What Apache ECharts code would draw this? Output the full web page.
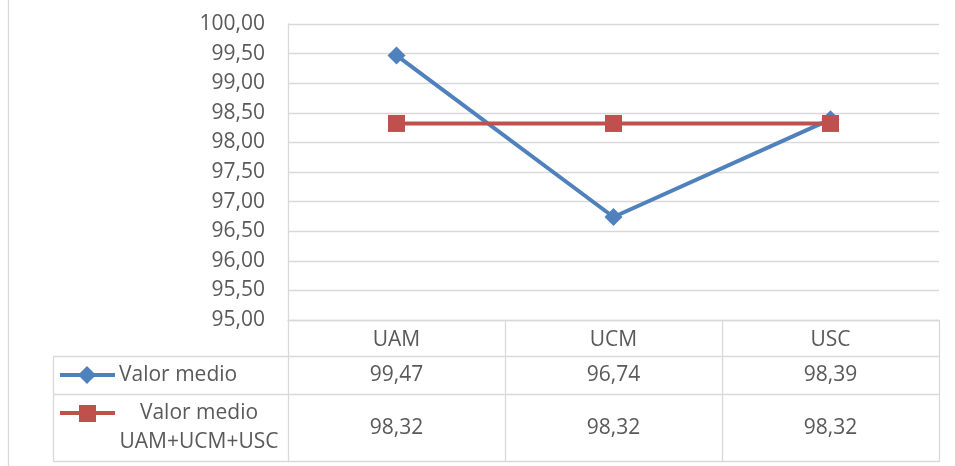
<!DOCTYPE html>
<html>
<head>
<meta charset="utf-8">
<script src="https://cdn.jsdelivr.net/npm/echarts@6/dist/echarts.min.js"></script>
<style>
html,body{margin:0;padding:0;background:#fff;}
#c{width:955px;height:466px;}
</style>
</head>
<body>
<div id="c"></div>
<script>
const categories = ['UAM', 'UCM', 'USC'];
const seriesNames = ['Valor medio', 'Valor medio UAM+UCM+USC'];
const valorMedio = [99.47, 96.74, 98.39];
const valorMedioTotal = [98.32, 98.32, 98.32];
const yMin = 95, yMax = 100, yStep = 0.5;

const FONT = 'Open Sans';
const TXT = '#595959';
const GRID = '#d9d9d9';
const BLUE = '#4f81bd';
const RED = '#c0504d';
const fmt = v => v.toFixed(2).replace('.', ',');

const chart = echarts.init(document.getElementById('c'), null, {renderer: 'canvas'});
const option = {
  animation: false,
  backgroundColor: '#fff',
  textStyle: {fontFamily: FONT},
  grid: {left: 288, right: 16, top: 24, bottom: 146, containLabel: false},
  xAxis: {
    type: 'category',
    data: categories,
    boundaryGap: true,
    axisLine: {show: true, lineStyle: {color: GRID, width: 1.3}},
    axisTick: {show: true, interval: 0, length: 142, lineStyle: {color: GRID, width: 1.3}},
    axisLabel: {color: TXT, fontSize: 21, fontFamily: FONT, margin: 7, lineHeight: 26, interval: 0}
  },
  yAxis: {
    type: 'value',
    min: yMin, max: yMax, interval: yStep,
    axisLine: {show: true, lineStyle: {color: GRID, width: 1.3}},
    axisTick: {show: false},
    splitLine: {show: true, lineStyle: {color: GRID, width: 1.3}},
    axisLabel: {color: TXT, fontSize: 21, fontFamily: FONT, margin: 23, formatter: v => fmt(v)}
  },
  series: [
    {
      name: seriesNames[0], type: 'line', data: valorMedio,
      symbol: 'diamond', symbolSize: 18,
      lineStyle: {color: BLUE, width: 4},
      itemStyle: {color: BLUE}, z: 2
    },
    {
      name: seriesNames[1], type: 'line', data: valorMedioTotal,
      symbol: 'rect', symbolSize: 17,
      lineStyle: {color: RED, width: 4},
      itemStyle: {color: RED}, z: 3
    }
  ]
};
chart.setOption(option);

// Data table below the plot, built from the arrays
const xs = categories.map((c) => chart.convertToPixel({xAxisIndex: 0}, c));
const g = [];
const hline = (x1, x2, y) => g.push({type: 'line', shape: {x1, y1: y, x2, y2: y}, style: {stroke: GRID, lineWidth: 1.3}, silent: true});
const vline = (x, y1, y2) => g.push({type: 'line', shape: {x1: x, y1, x2: x, y2}, style: {stroke: GRID, lineWidth: 1.3}, silent: true});
const right = 939;
hline(53, right, 356.5);
hline(53, right, 394.5);
hline(53, right, 461.5);
vline(53.5, 356, 462);
vline(8.5, 0, 466);

const txt = (text, x, y, align) => g.push({type: 'text', x, y, silent: true,
  style: {text, fill: TXT, font: '21px "' + FONT + '"', textAlign: align || 'center', textVerticalAlign: 'middle'}});

valorMedio.forEach((v, i) => txt(fmt(v), xs[i], 375));
valorMedioTotal.forEach((v, i) => txt(fmt(v), xs[i], 428));

// legend keys
g.push({type: 'line', shape: {x1: 60, y1: 375, x2: 115, y2: 375}, style: {stroke: BLUE, lineWidth: 4}, silent: true});
g.push({type: 'polygon', shape: {points: [[87, 366], [96, 375], [87, 384], [78, 375]]}, style: {fill: BLUE}, silent: true});
txt(seriesNames[0], 119, 375, 'left');

g.push({type: 'line', shape: {x1: 60, y1: 413, x2: 115, y2: 413}, style: {stroke: RED, lineWidth: 4}, silent: true});
g.push({type: 'rect', shape: {x: 79, y: 405, width: 17, height: 17}, style: {fill: RED}, silent: true});
const parts = seriesNames[1].split(' ');
txt(parts.slice(0, 2).join(' '), 199, 413);
txt(parts.slice(2).join(' '), 199, 442);

chart.setOption({graphic: {elements: g}});
</script>
</body>
</html>
